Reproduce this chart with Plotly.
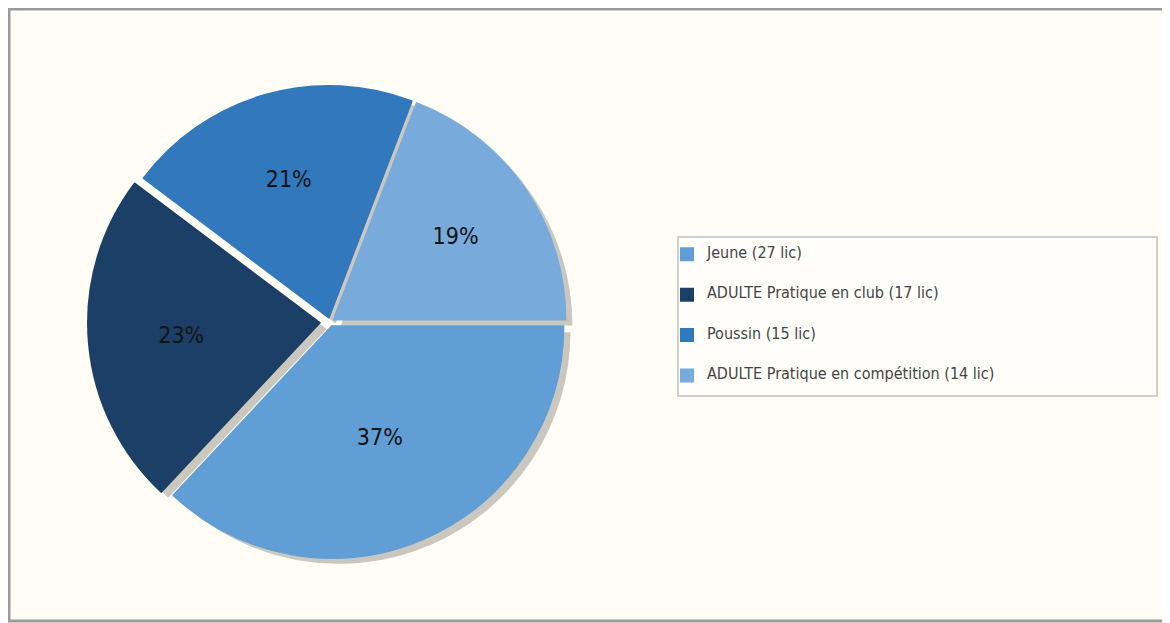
import plotly.graph_objects as go

labels = ["Jeune (27 lic)", "ADULTE Pratique en club (17 lic)", "Poussin (15 lic)",
          "ADULTE Pratique en compétition (14 lic)"]
values = [27, 17, 15, 14]
colors = ["#619ED6", "#1B3F66", "#3278BD", "#78AADB"]
pulls = [0.02, 0.045, 0.02, 0.02]

# the page body adds an 8px margin, so the figure is drawn 8px in from the window edge
OFF = 8
W, H = 1170 - OFF, 623 - OFF
cx, cy, r = 330 - OFF, 322 - OFF, 242

def dom(cx, cy, r):
    return dict(x=[(cx - r) / W, (cx + r) / W], y=[(H - cy - r) / H, (H - cy + r) / H])

# taller legend entries: blank lines above/below each label
legend_labels = ["&nbsp;<br><span style='font-size:16px'>%s</span><br>&nbsp;" % s for s in labels]

fig = go.Figure()
fig.add_trace(go.Pie(
    labels=legend_labels, values=values, sort=False, direction="clockwise", rotation=90,
    pull=pulls, domain=dom(cx + 7, cy + 6, r),
    marker=dict(colors=["#C9C7BE"] * 4, line=dict(width=0)),
    textinfo="none", hoverinfo="skip", showlegend=False,
))
fig.add_trace(go.Pie(
    labels=legend_labels, values=values, sort=False, direction="clockwise", rotation=90,
    pull=pulls, domain=dom(cx, cy, r),
    customdata=labels,
    hovertemplate="%{customdata}<br>%{value} lic (%{percent})<extra></extra>",
    marker=dict(colors=colors, line=dict(width=2, color=colors)),
    texttemplate="%{percent:.0%}", textposition="inside",
    insidetextorientation="horizontal",
    textfont=dict(family="Liberation Sans Narrow, DejaVu Sans Condensed, sans-serif",
                  size=23, color="#141414"),
    showlegend=True,
))

fig.update_layout(
    width=W, height=H,
    margin=dict(l=0, r=0, t=0, b=0),
    paper_bgcolor="#FFFDF6", plot_bgcolor="#FFFDF6",
    legend=dict(
        x=659 / W, y=1 - 221 / H, xanchor="left", yanchor="top",
        bgcolor="rgba(0,0,0,0)", borderwidth=0,
        font=dict(family="Liberation Sans Narrow, DejaVu Sans Condensed, sans-serif",
                  size=9.6, color="#444444"),
        itemwidth=30, tracegroupgap=0,
    ),
    shapes=[
        dict(type="rect", xref="paper", yref="paper",
             x0=1 / W, x1=1.02, y0=2 / H, y1=1 - 1 / H,
             line=dict(color="#9A9A9A", width=3), fillcolor="rgba(0,0,0,0)", layer="above"),
        dict(type="rect", xref="paper", yref="paper",
             x0=(678 - OFF) / W, x1=(1157 - OFF) / W,
             y0=1 - (396 - OFF) / H, y1=1 - (237 - OFF) / H,
             line=dict(color="#D0D0D0", width=2), fillcolor="rgba(255,255,255,0.6)", layer="below"),
    ],
)

fig.write_html("out.html")
